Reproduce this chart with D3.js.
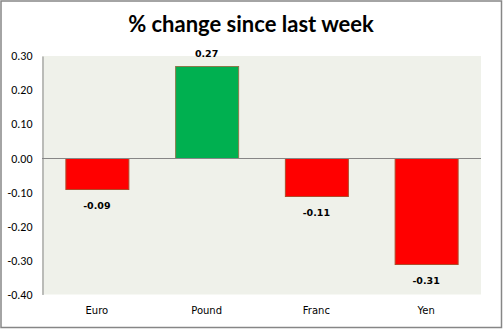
<!DOCTYPE html>
<html><head><meta charset="utf-8">
<script src="https://cdn.jsdelivr.net/npm/d3@7"></script>
<style>body{margin:0;background:#fff;}svg{display:block;}</style>
</head><body>
<script>
const categories = ["Euro", "Pound", "Franc", "Yen"];
const values = [-0.09, 0.27, -0.11, -0.31];
const yTicks = [0.30, 0.20, 0.10, 0.00, -0.10, -0.20, -0.30, -0.40];
const title = "% change since last week";

const fmt = d => d3.format(".2f")(d).replace("\u2212", "-");
const W = 503, H = 329;
const m = {left: 42, right: 22, top: 56, bottom: 35};
const svg = d3.select("body").append("svg").attr("width", W).attr("height", H);
svg.append("rect").attr("x", 1).attr("y", 1).attr("width", W - 2.5).attr("height", H - 2.5)
  .attr("fill", "#fff").attr("stroke", "#868686").attr("stroke-width", 1.5);

const x = d3.scaleBand().domain(categories).range([m.left, W - m.right]).paddingInner(0.426).paddingOuter(0.213);
const y = d3.scaleLinear().domain([-0.40, 0.30]).range([H - m.bottom + 0.5, m.top]);

svg.append("rect").attr("x", m.left).attr("y", y(0.30)).attr("width", W - m.right - m.left)
  .attr("height", y(-0.40) - y(0.30)).attr("fill", "#EFF1EA");

svg.selectAll("rect.bar").data(values).join("rect").attr("class", "bar")
  .attr("x", (d, i) => x(categories[i]) + 0.5)
  .attr("y", d => Math.round(y(Math.max(0, d))) + 0.5)
  .attr("width", x.bandwidth())
  .attr("height", d => Math.abs(Math.round(y(d)) - Math.round(y(0))))
  .attr("fill", d => d >= 0 ? "#00B050" : "#FF0000")
  .attr("stroke", d => d >= 0 ? "#8A7A4A" : "#B04A2A").attr("stroke-width", 1);

// zero line
svg.append("line").attr("x1", m.left).attr("x2", W - m.right)
  .attr("y1", Math.round(y(0)) + 0.5).attr("y2", Math.round(y(0)) + 0.5)
  .attr("stroke", "#868686").attr("stroke-width", 1);

// y axis
const yAxis = d3.axisLeft(y).tickValues(yTicks).tickSize(0).tickPadding(10).tickFormat(fmt);
const gy = svg.append("g").attr("transform", `translate(${m.left + 0.5},0)`).call(yAxis);
gy.select(".domain").attr("stroke", "#868686");
gy.selectAll("text").attr("font-family", "Carlito, Calibri, 'Liberation Sans', sans-serif")
  .attr("font-size", 12).attr("fill", "#000").attr("x", -10);

// x axis labels
const xAxis = d3.axisBottom(x).tickSize(0).tickPadding(12);
const gx = svg.append("g").attr("transform", `translate(0,${y(-0.40)})`).call(xAxis);
gx.select(".domain").remove();
gx.selectAll("text").attr("font-family", "'DejaVu Sans', Verdana, sans-serif")
  .attr("font-size", 10).attr("fill", "#000");

// value labels
svg.selectAll("text.val").data(values).join("text").attr("class", "val")
  .attr("x", (d, i) => x(categories[i]) + x.bandwidth() / 2)
  .attr("y", d => d >= 0 ? y(d) - 9 : y(d) + 20)
  .attr("text-anchor", "middle")
  .attr("font-family", "'DejaVu Sans', Verdana, sans-serif").attr("font-weight", "bold")
  .attr("font-size", 9.5).attr("fill", "#000")
  .text(fmt);

svg.append("text").attr("x", 251).attr("y", 32).attr("text-anchor", "middle")
  .attr("font-family", "Lato, 'Open Sans', sans-serif").attr("font-weight", "bold")
  .attr("font-size", 22).attr("fill", "#000").text(title);
</script>
</body></html>
